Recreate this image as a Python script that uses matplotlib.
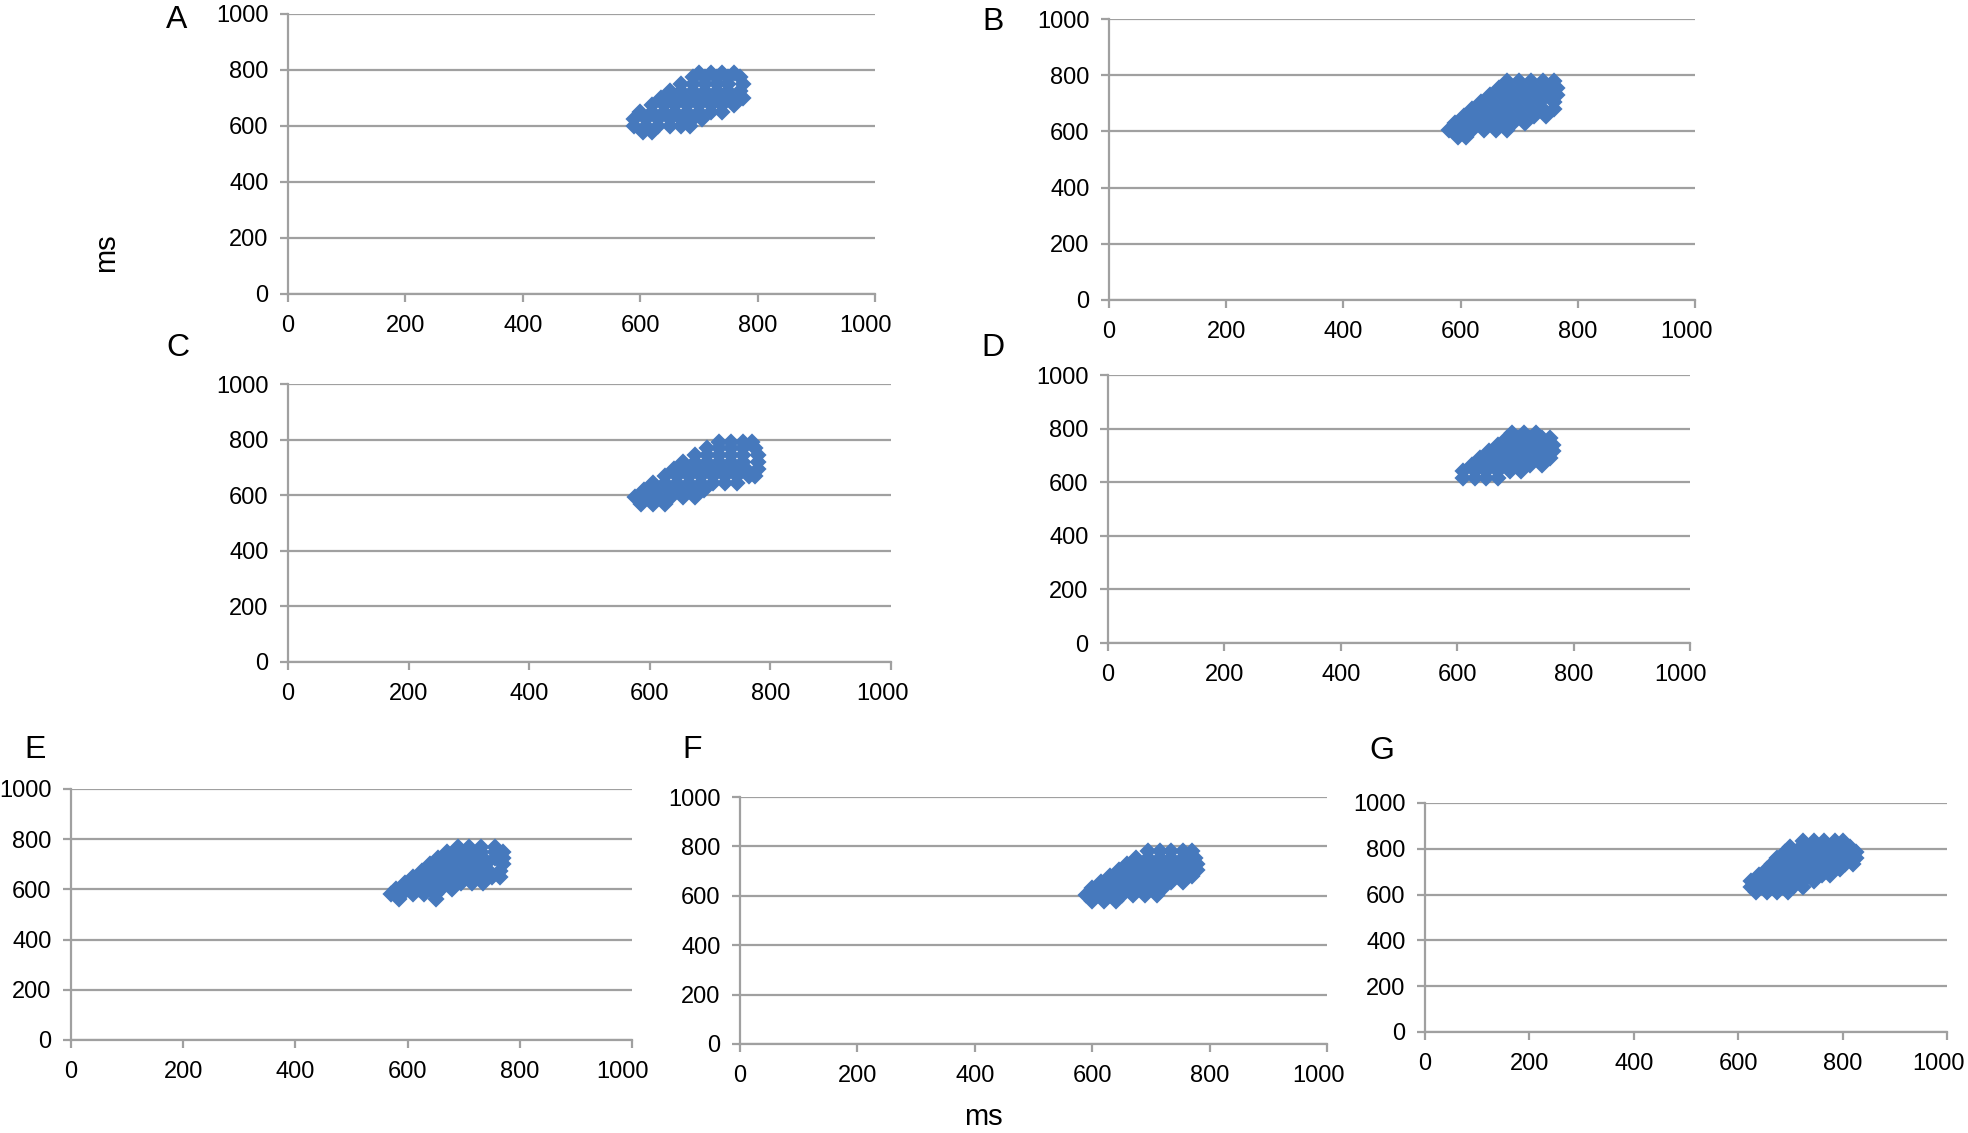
import matplotlib
matplotlib.use('Agg')
import matplotlib.pyplot as plt
from matplotlib.transforms import ScaledTranslation

plt.rcParams.update({
    'font.family': ['Liberation Sans', 'DejaVu Sans'],
    'font.size': 17,
})

BLUE = '#4679BD'
GRID = '#A0A0A0'

ticks = [0, 200, 400, 600, 800, 1000]
tick_labels = ['0', '200', '400', '600', '800', '1000']

# point clouds, one row of x values per y value (ms vs ms)
a_y = [580, 600, 625, 650, 675, 700, 725, 750, 775, 790]
a_x = [[605, 620],
       [590, 610, 630, 650, 670, 685],
       [590, 610, 630, 650, 670, 690, 705],
       [600, 620, 640, 660, 680, 700, 720, 740],
       [620, 640, 660, 680, 700, 720, 740, 760],
       [635, 655, 675, 695, 715, 735, 755, 775],
       [650, 670, 690, 710, 730, 750, 770],
       [670, 690, 710, 730, 750, 775],
       [690, 710, 730, 750, 770],
       [700, 720, 740, 760]]

b_y = [580, 605, 630, 655, 680, 705, 730, 755, 780]
b_x = [[595, 610],
       [580, 600, 620, 640, 660, 680],
       [590, 610, 630, 650, 670, 690, 710],
       [605, 625, 645, 665, 685, 705, 725, 745],
       [620, 640, 660, 680, 700, 720, 740, 760],
       [635, 655, 675, 695, 715, 735, 760],
       [650, 670, 690, 710, 730, 750, 765],
       [665, 685, 705, 725, 745, 765],
       [680, 700, 720, 740, 760]]

c_y = [570, 595, 620, 645, 670, 695, 720, 745, 770, 790]
c_x = [[585, 605, 625],
       [575, 595, 615, 635, 655, 675],
       [590, 610, 630, 650, 670, 690],
       [605, 625, 645, 665, 685, 705, 725, 745],
       [625, 645, 665, 685, 705, 725, 745, 765, 775],
       [640, 660, 680, 700, 720, 740, 760, 780],
       [655, 675, 695, 715, 735, 755, 780],
       [675, 695, 715, 735, 755, 780],
       [695, 715, 735, 755, 775],
       [715, 735, 755, 770]]

d_y = [615, 640, 665, 690, 715, 740, 765, 785]
d_x = [[610, 630, 650, 670],
       [610, 630, 650, 670, 690, 710],
       [625, 645, 665, 685, 705, 725, 745],
       [640, 660, 680, 700, 720, 740, 760],
       [655, 675, 695, 715, 735, 755, 765],
       [670, 690, 710, 730, 750, 765],
       [685, 705, 725, 745, 760],
       [695, 715, 735]]

e_y = [560, 580, 600, 625, 650, 675, 700, 725, 750, 770]
e_x = [[585, 650],
       [570, 590, 610, 630, 650],
       [580, 600, 620, 640, 660, 680],
       [595, 615, 635, 655, 675, 695, 715, 735],
       [610, 630, 650, 670, 690, 710, 730, 750, 765],
       [625, 645, 665, 685, 705, 725, 745, 765],
       [640, 660, 680, 700, 720, 740, 770],
       [655, 675, 695, 715, 735, 755, 770],
       [670, 690, 710, 730, 755, 770],
       [690, 710, 730, 755]]

f_y = [580, 605, 630, 655, 680, 705, 730, 755, 780]
f_x = [[600, 620, 640],
       [590, 610, 630, 650, 670, 690, 710],
       [600, 620, 640, 660, 680, 700, 720],
       [615, 635, 655, 675, 695, 715, 735, 755],
       [630, 650, 670, 690, 710, 730, 750, 770],
       [645, 665, 685, 705, 725, 745, 765, 778],
       [660, 680, 700, 720, 740, 760, 778],
       [675, 695, 715, 735, 755, 775],
       [695, 715, 735, 755, 770]]

g_y = [610, 635, 660, 685, 710, 735, 760, 785, 810, 835]
g_x = [[635, 655, 675, 695],
       [625, 645, 665, 685, 705, 725],
       [625, 645, 665, 685, 705, 725, 745],
       [640, 660, 680, 700, 720, 740, 760, 775],
       [655, 675, 695, 715, 735, 755, 775, 795],
       [665, 685, 705, 725, 745, 765, 785, 805, 820],
       [675, 695, 715, 735, 755, 775, 795, 815, 825],
       [690, 710, 730, 750, 770, 790, 810, 825],
       [700, 720, 740, 760, 780, 800, 815],
       [725, 745, 765, 785, 800]]

W, H = 1968, 1133
# panel: letter, data, (left, right, top, bottom) px, letter centre px
panels = [
    ('A', a_y, a_x, (288, 875, 14, 294), (177, 20)),
    ('B', b_y, b_x, (1109, 1695, 19, 300), (993, 22)),
    ('C', c_y, c_x, (288, 891, 384, 662), (178, 348)),
    ('D', d_y, d_x, (1108, 1690, 375, 643), (993, 348)),
    ('E', e_y, e_x, (71, 632, 789, 1040), (35, 750)),
    ('F', f_y, f_x, (740, 1327, 797, 1044), (692, 750)),
    ('G', g_y, g_x, (1425, 1947, 803, 1032), (1382, 751)),
]

fig = plt.figure(figsize=(W / 100, H / 100), dpi=100)
shift = ScaledTranslation(-9 / 100, 0, fig.dpi_scale_trans)

for letter, ys, xs, (l, r, t, b), (lx, ly) in panels:
    ax = fig.add_axes([l / W, 1 - b / H, (r - l) / W, (b - t) / H])
    px, py = [], []
    for yv, row in zip(ys, xs):
        px += row
        py += [yv] * len(row)
    ax.plot(px, py, 'D', color=BLUE, ms=7.5, mew=1.6, mec=BLUE, zorder=3)
    ax.set_xlim(0, 1000)
    ax.set_ylim(0, 1000)
    ax.set_xticks(ticks)
    ax.set_xticklabels(tick_labels)
    ax.set_yticks(ticks)
    ax.set_yticklabels(tick_labels)
    ax.grid(axis='y', color=GRID, lw=1.6)
    ax.set_axisbelow(True)
    for s in ('top', 'right'):
        ax.spines[s].set_visible(False)
    for s in ('left', 'bottom'):
        ax.spines[s].set_color(GRID)
        ax.spines[s].set_linewidth(1.6)
    ax.tick_params(axis='both', color=GRID, width=1.6, length=6,
                   labelsize=17)
    ax.tick_params(axis='y', pad=8)
    ax.tick_params(axis='x', pad=9)
    last = ax.get_xticklabels()[-1]
    last.set_transform(last.get_transform() + shift)
    fig.text(lx / W, 1 - ly / H, letter, ha='center', va='center',
             fontsize=23)

fig.text(106 / W, 1 - 253 / H, 'ms', rotation=90, ha='center',
         va='center', fontsize=21)
fig.text(983 / W, 1 - 1117 / H, 'ms', ha='center', va='center',
         fontsize=21)

fig.savefig('out.png', dpi=100)
